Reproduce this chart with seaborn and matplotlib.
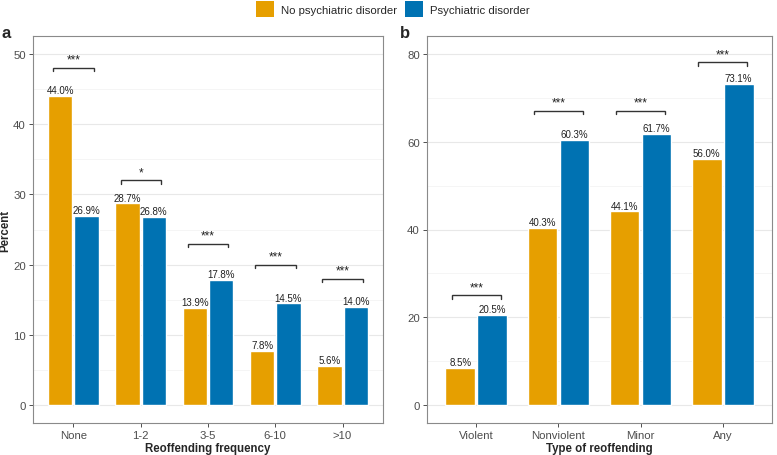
import matplotlib
matplotlib.use("Agg")
import matplotlib.pyplot as plt
import seaborn as sns
import pandas as pd
from matplotlib.patches import Patch
from matplotlib.ticker import MultipleLocator

# ---------------- data ----------------
groups = ["No psychiatric disorder", "Psychiatric disorder"]
colors = ["#E69F00", "#0072B2"]

freq_cats = ["None", "1-2", "3-5", "6-10", ">10"]
freq_no = [44.0, 28.7, 13.9, 7.8, 5.6]
freq_psy = [26.9, 26.8, 17.8, 14.5, 14.0]
freq_sig = ["***", "*", "***", "***", "***"]
freq_bracket_y = [48, 32, 23, 20, 18]

type_cats = ["Violent", "Nonviolent", "Minor", "Any"]
type_no = [8.5, 40.3, 44.1, 56.0]
type_psy = [20.5, 60.3, 61.7, 73.1]
type_sig = ["***", "***", "***", "***"]
type_bracket_y = [25, 67, 67, 78]


def long_df(cats, no, psy):
    rows = []
    for c, v in zip(cats, no):
        rows.append({"cat": c, "val": v, "group": groups[0]})
    for c, v in zip(cats, psy):
        rows.append({"cat": c, "val": v, "group": groups[1]})
    return pd.DataFrame(rows)


sns.set_theme(style="white")
plt.rcParams["font.family"] = ["Liberation Sans", "DejaVu Sans"]

fig = plt.figure(figsize=(7.77, 4.56), dpi=100)
ax_a = fig.add_axes([33 / 777, 32 / 456, 350 / 777, 387 / 456])
ax_b = fig.add_axes([427 / 777, 32 / 456, 345 / 777, 387 / 456])

TICK_C = "#4D4D4D"


def panel(ax, cats, no, psy, sig, by, ylim, major, xlabel, ylabel, leg):
    df = long_df(cats, no, psy)
    sns.barplot(data=df, x="cat", y="val", hue="group", order=cats,
                hue_order=groups, palette=colors, width=0.78, gap=0.07,
                saturation=1, ax=ax, legend=False, errorbar=None)
    for cont in ax.containers:
        ax.bar_label(cont, fmt="%.1f%%", padding=0.6, fontsize=7.0,
                     color="#222222")
    for i, (s, y) in enumerate(zip(sig, by)):
        x0, x1 = i - 0.3, i + 0.3
        ax.plot([x0, x0, x1, x1], [y - leg, y, y, y - leg],
                color="#333333", lw=1.0, solid_joinstyle="miter")
        ax.annotate(s, xy=(i, y), xytext=(0, 1.6), textcoords="offset points",
                    ha="center", va="bottom", fontsize=8.5, color="#222222")
    ax.set_xlim(-0.6, len(cats) - 0.4)
    ax.set_ylim(*ylim)
    ax.yaxis.set_major_locator(MultipleLocator(major))
    ax.yaxis.set_minor_locator(MultipleLocator(major / 2))
    ax.yaxis.grid(True, which="major", color="#E8E8E8", lw=0.8)
    ax.yaxis.grid(True, which="minor", color="#F2F2F2", lw=0.5)
    ax.xaxis.grid(False)
    ax.set_axisbelow(True)
    ax.tick_params(axis="both", which="major", length=3, width=0.6,
                   color="#333333", labelsize=8.2, labelcolor=TICK_C, pad=2.2)
    ax.tick_params(which="minor", length=0)
    ax.tick_params(axis="x", bottom=True)
    ax.tick_params(axis="y", left=True)
    for sp in ax.spines.values():
        sp.set_color("#8A8A8A")
        sp.set_linewidth(0.8)
    ax.set_xlabel(xlabel, fontsize=8.3, fontweight="bold", labelpad=1.5)
    ax.set_ylabel(ylabel, fontsize=8.3, fontweight="bold", labelpad=1.5)


panel(ax_a, freq_cats, freq_no, freq_psy, freq_sig, freq_bracket_y,
      (-2.5, 52.5), 10, "Reoffending frequency", "Percent", 0.5)
panel(ax_b, type_cats, type_no, type_psy, type_sig, type_bracket_y,
      (-4, 84), 20, "Type of reoffending", "", 0.75)

fig.text(0.002, 1 - 33 / 456, "a", fontsize=12, fontweight="bold",
         va="center", ha="left")
fig.text(400 / 777, 1 - 33 / 456, "b", fontsize=12, fontweight="bold",
         va="center", ha="left")

handles = [Patch(facecolor=c, edgecolor="none") for c in colors]
fig.legend(handles, groups, loc="center", bbox_to_anchor=(0.505, 1 - 10 / 456),
           ncol=2, frameon=False, fontsize=8.2, handlelength=1.65,
           handleheight=1.65, handletextpad=0.55, columnspacing=0.7,
           borderpad=0, borderaxespad=0)

fig.savefig("out.png", dpi=100)
